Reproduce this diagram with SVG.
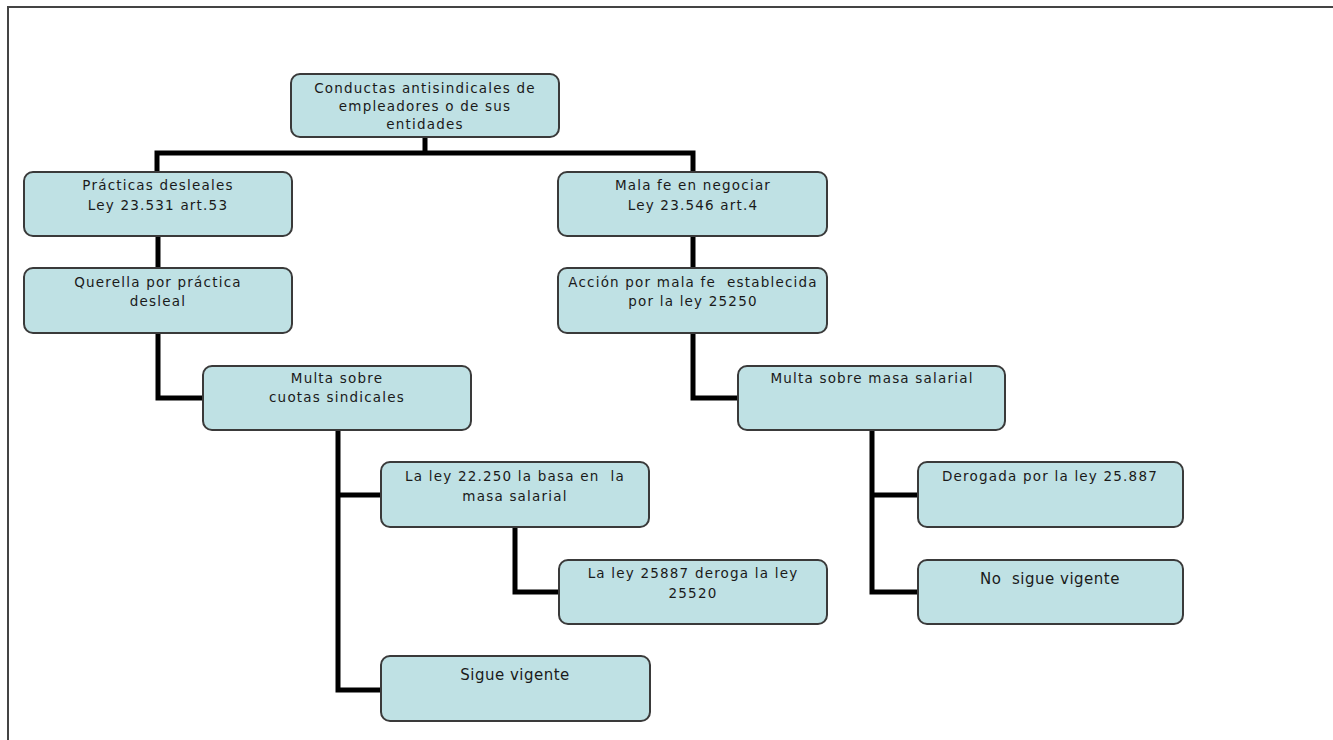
<svg xmlns="http://www.w3.org/2000/svg" width="1333" height="740" viewBox="0 0 1333 740">
<style>
.box{fill:#bfe1e4;stroke:#3a3a3a;stroke-width:2}
.t{font-family:"DejaVu Sans",sans-serif;font-size:13.5px;letter-spacing:1.2px;fill:#1a1a1a;text-anchor:middle;white-space:pre}
.b{font-size:15px;letter-spacing:0.5px}
.c{fill:none;stroke:#000;stroke-width:5}
</style>
<rect width="1333" height="740" fill="#fff"/>
<path d="M8 740 V7 H1333" fill="none" stroke="#444" stroke-width="2"/>
<g id="connectors">
<path class="c" d="M425 138 V153 M157 174 V153 H693 V174"/>
<path class="c" d="M158 236 V268"/>
<path class="c" d="M158 334 V398 H203"/>
<path class="c" d="M693 236 V268"/>
<path class="c" d="M693 334 V398 H738"/>
<path class="c" d="M338 430 V690 H381 M338 495 H381"/>
<path class="c" d="M515 528 V592 H559"/>
<path class="c" d="M872 430 V592 H918 M872 495 H918"/>
</g>
<g id="root"><rect class="box" x="291" y="74" width="268" height="63" rx="9"/>
<text class="t" x="425" y="93">Conductas antisindicales de</text><text class="t" x="425" y="111">empleadores o de sus</text><text class="t" x="425" y="129">entidades</text></g>
<g id="practicas"><rect class="box" x="24" y="172" width="268" height="64" rx="9"/>
<text class="t" x="158" y="190">Prácticas desleales</text><text class="t" x="158" y="210">Ley 23.531 art.53</text></g>
<g id="malafe"><rect class="box" x="558" y="172" width="269" height="64" rx="9"/>
<text class="t" x="693" y="190">Mala fe en negociar</text><text class="t" x="693" y="210">Ley 23.546 art.4</text></g>
<g id="querella"><rect class="box" x="24" y="268" width="268" height="65" rx="9"/>
<text class="t" x="158" y="287">Querella por práctica</text><text class="t" x="158" y="306">desleal</text></g>
<g id="accion"><rect class="box" x="558" y="268" width="269" height="65" rx="9"/>
<text class="t" x="693" y="287">Acción por mala fe  establecida</text><text class="t" x="693" y="306">por la ley 25250</text></g>
<g id="multa-cuotas"><rect class="box" x="203" y="366" width="268" height="64" rx="9"/>
<text class="t" x="337" y="383">Multa sobre</text><text class="t" x="337" y="402">cuotas sindicales</text></g>
<g id="multa-masa"><rect class="box" x="738" y="366" width="267" height="64" rx="9"/>
<text class="t" x="872" y="383">Multa sobre masa salarial</text></g>
<g id="ley22250"><rect class="box" x="381" y="462" width="268" height="65" rx="9"/>
<text class="t" x="515" y="481">La ley 22.250 la basa en  la</text><text class="t" x="515" y="501">masa salarial</text></g>
<g id="ley25887"><rect class="box" x="559" y="560" width="268" height="64" rx="9"/>
<text class="t" x="693" y="578">La ley 25887 deroga la ley</text><text class="t" x="693" y="598">25520</text></g>
<g id="sigue"><rect class="box" x="381" y="656" width="269" height="65" rx="9"/>
<text class="t b" x="515" y="680">Sigue vigente</text></g>
<g id="derogada"><rect class="box" x="918" y="462" width="265" height="65" rx="9"/>
<text class="t" x="1050" y="481">Derogada por la ley 25.887</text></g>
<g id="nosigue"><rect class="box" x="918" y="560" width="265" height="64" rx="9"/>
<text class="t b" x="1050" y="584">No  sigue vigente</text></g>
</svg>
